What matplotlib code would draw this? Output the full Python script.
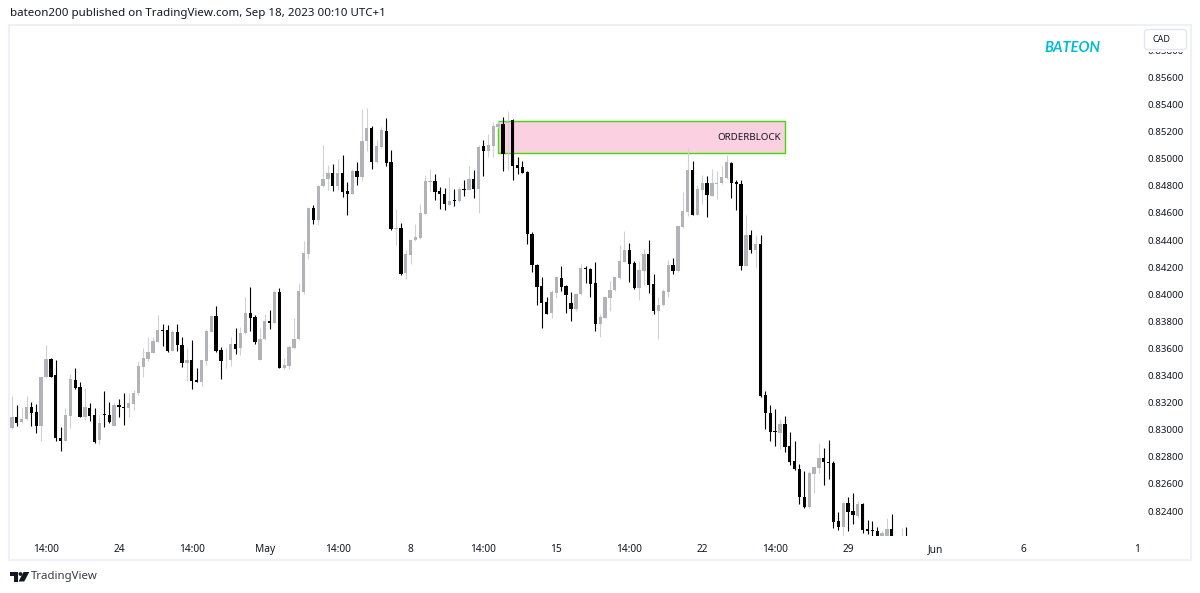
import matplotlib
matplotlib.use("Agg")
import matplotlib.pyplot as plt
import matplotlib.patches as patches
from matplotlib.transforms import Bbox, TransformedBbox

# candles (oldest first)
opens = [
    0.83012, 0.83093, 0.83054, 0.83076, 0.83169, 0.83128, 0.83027, 0.83386, 0.83523, 0.83405,
    0.82941, 0.82919, 0.83103, 0.83369, 0.83314, 0.83093, 0.83162, 0.83108, 0.82921, 0.83113,
    0.83108, 0.83027, 0.83182, 0.83167, 0.83157, 0.83192, 0.83268, 0.83464, 0.83521, 0.83565,
    0.83649, 0.83737, 0.83735, 0.83582, 0.83720, 0.83624, 0.83489, 0.83514, 0.83364, 0.83354,
    0.83511, 0.83722, 0.83840, 0.83587, 0.83504, 0.83514, 0.83632, 0.83600, 0.83715, 0.83862,
    0.83835, 0.83518, 0.83666, 0.83801, 0.83789, 0.84015, 0.83452, 0.83469, 0.83604, 0.83668,
    0.84017, 0.84295, 0.84636, 0.84545, 0.84796, 0.84848, 0.84894, 0.84799, 0.84897, 0.84759,
    0.84742, 0.84907, 0.84862, 0.85128, 0.85229, 0.84976, 0.85086, 0.85207, 0.84973, 0.84481,
    0.84491, 0.84157, 0.84292, 0.84400, 0.84415, 0.84595, 0.84831, 0.84835, 0.84759, 0.84742,
    0.84661, 0.84693, 0.84686, 0.84774, 0.84767, 0.84848, 0.84774, 0.85091, 0.85057, 0.85093,
    0.85233, 0.85253, 0.85262, 0.85283, 0.84951, 0.84938, 0.84904, 0.84447, 0.84218, 0.84058,
    0.83943, 0.83862, 0.84009, 0.84122, 0.84061, 0.83938, 0.83894, 0.83999, 0.84196, 0.84189,
    0.84083, 0.83778, 0.83827, 0.83972, 0.84029, 0.84120, 0.84240, 0.84324, 0.84228, 0.84049,
    0.84172, 0.84294, 0.84073, 0.83874, 0.83918, 0.84017, 0.84213, 0.84169, 0.84496, 0.84604,
    0.84919, 0.84587, 0.84766, 0.84818, 0.84727, 0.84815, 0.84820, 0.84857, 0.84970, 0.84828,
    0.84813, 0.84208, 0.84439, 0.84326, 0.84374, 0.83260, 0.83127, 0.82990, 0.82978, 0.83039,
    0.82879, 0.82769, 0.82712, 0.82506, 0.82427, 0.82675, 0.82717, 0.82788, 0.82761, 0.82756,
    0.82326, 0.82282, 0.82456, 0.82402, 0.82363, 0.82452, 0.82265, 0.82260, 0.82250, 0.82190,
    0.82190, 0.82267, 0.82180, 0.82150, 0.82205,
]
closes = [
    0.83093, 0.83051, 0.83078, 0.83169, 0.83123, 0.83027, 0.83391, 0.83521, 0.83391, 0.82938,
    0.82919, 0.83108, 0.83373, 0.83307, 0.83096, 0.83165, 0.83101, 0.82906, 0.83047, 0.83106,
    0.83056, 0.83184, 0.83165, 0.83162, 0.83199, 0.83273, 0.83469, 0.83526, 0.83573, 0.83654,
    0.83735, 0.83730, 0.83580, 0.83720, 0.83622, 0.83489, 0.83514, 0.83359, 0.83354, 0.83514,
    0.83730, 0.83840, 0.83582, 0.83504, 0.83511, 0.83632, 0.83597, 0.83715, 0.83858, 0.83826,
    0.83644, 0.83668, 0.83801, 0.83789, 0.84015, 0.83457, 0.83476, 0.83607, 0.83668, 0.84022,
    0.84304, 0.84639, 0.84545, 0.84799, 0.84853, 0.84897, 0.84799, 0.84897, 0.84754, 0.84740,
    0.84907, 0.84862, 0.85130, 0.85229, 0.84976, 0.85091, 0.85209, 0.84968, 0.84479, 0.84489,
    0.84152, 0.84295, 0.84403, 0.84420, 0.84599, 0.84835, 0.84835, 0.84752, 0.84737, 0.84663,
    0.84688, 0.84686, 0.84774, 0.84769, 0.84848, 0.84776, 0.85086, 0.85057, 0.85098, 0.85238,
    0.85253, 0.85037, 0.85278, 0.84946, 0.84933, 0.84897, 0.84442, 0.84213, 0.84054, 0.83938,
    0.83857, 0.84014, 0.84127, 0.84054, 0.83992, 0.83894, 0.84004, 0.84196, 0.84186, 0.84078,
    0.83778, 0.83832, 0.83977, 0.84031, 0.84125, 0.84245, 0.84324, 0.84221, 0.84046, 0.84176,
    0.84294, 0.84071, 0.83874, 0.83923, 0.84022, 0.84216, 0.84169, 0.84501, 0.84612, 0.84919,
    0.84587, 0.84774, 0.84818, 0.84729, 0.84818, 0.84820, 0.84862, 0.84973, 0.84820, 0.84811,
    0.84208, 0.84439, 0.84324, 0.84368, 0.83250, 0.83125, 0.82985, 0.82980, 0.83041, 0.82874,
    0.82764, 0.82710, 0.82501, 0.82427, 0.82680, 0.82722, 0.82788, 0.82759, 0.82751, 0.82321,
    0.82284, 0.82459, 0.82395, 0.82368, 0.82452, 0.82260, 0.82252, 0.82250, 0.82200, 0.82235,
    0.82267, 0.82190, 0.82150, 0.82200, 0.82170,
]
highs = [
    0.83251, 0.83182, 0.83162, 0.83251, 0.83206, 0.83187, 0.83391, 0.83624, 0.83528, 0.83514,
    0.83017, 0.83157, 0.83415, 0.83452, 0.83349, 0.83305, 0.83201, 0.83162, 0.83108, 0.83287,
    0.83206, 0.83194, 0.83224, 0.83273, 0.83268, 0.83297, 0.83506, 0.83605, 0.83681, 0.83681,
    0.83848, 0.83779, 0.83772, 0.83735, 0.83784, 0.83681, 0.83600, 0.83659, 0.83452, 0.83514,
    0.83740, 0.83845, 0.83912, 0.83607, 0.83605, 0.83681, 0.83750, 0.83759, 0.83978, 0.84054,
    0.83845, 0.83754, 0.83853, 0.83882, 0.84030, 0.84049, 0.83533, 0.83624, 0.83821, 0.84081,
    0.84393, 0.84644, 0.84661, 0.84803, 0.85103, 0.84951, 0.84958, 0.85000, 0.85027, 0.84828,
    0.84926, 0.84973, 0.85369, 0.85376, 0.85239, 0.85135, 0.85234, 0.85302, 0.85062, 0.84631,
    0.84528, 0.84324, 0.84403, 0.84521, 0.84668, 0.84877, 0.84921, 0.84885, 0.84791, 0.84786,
    0.84862, 0.84779, 0.84791, 0.84840, 0.84944, 0.84914, 0.85098, 0.85135, 0.85184, 0.85270,
    0.85283, 0.85307, 0.85351, 0.85295, 0.85012, 0.84980, 0.84909, 0.84459, 0.84221, 0.84127,
    0.83980, 0.84029, 0.84127, 0.84206, 0.84071, 0.84017, 0.84009, 0.84226, 0.84206, 0.84194,
    0.84238, 0.83857, 0.83980, 0.84098, 0.84127, 0.84361, 0.84466, 0.84378, 0.84245, 0.84245,
    0.84336, 0.84398, 0.84147, 0.83980, 0.84041, 0.84255, 0.84270, 0.84506, 0.84754, 0.85081,
    0.84980, 0.84803, 0.84877, 0.84872, 0.84926, 0.84906, 0.84943, 0.85024, 0.84973, 0.84840,
    0.84845, 0.84582, 0.84471, 0.84439, 0.84435, 0.83285, 0.83182, 0.83150, 0.83076, 0.83100,
    0.82982, 0.82914, 0.82744, 0.82692, 0.82697, 0.82727, 0.82899, 0.82869, 0.82928, 0.82771,
    0.82395, 0.82464, 0.82506, 0.82535, 0.82476, 0.82456, 0.82334, 0.82326, 0.82284, 0.82252,
    0.82346, 0.82375, 0.82200, 0.82272, 0.82279,
]
lows = [
    0.83007, 0.83027, 0.83047, 0.83071, 0.83027, 0.82973, 0.82919, 0.83383, 0.83386, 0.82919,
    0.82845, 0.82916, 0.83010, 0.83302, 0.83093, 0.83071, 0.83066, 0.82904, 0.82894, 0.83020,
    0.83047, 0.83027, 0.83091, 0.83034, 0.83091, 0.83145, 0.83256, 0.83386, 0.83506, 0.83563,
    0.83644, 0.83619, 0.83577, 0.83580, 0.83582, 0.83464, 0.83361, 0.83302, 0.83351, 0.83322,
    0.83477, 0.83718, 0.83575, 0.83371, 0.83455, 0.83469, 0.83558, 0.83555, 0.83710, 0.83730,
    0.83636, 0.83518, 0.83661, 0.83744, 0.83786, 0.83454, 0.83445, 0.83445, 0.83599, 0.83661,
    0.84005, 0.84263, 0.84516, 0.84513, 0.84791, 0.84772, 0.84762, 0.84767, 0.84717, 0.84587,
    0.84737, 0.84808, 0.84835, 0.85054, 0.84926, 0.84968, 0.85081, 0.84946, 0.84477, 0.84361,
    0.84145, 0.84115, 0.84226, 0.84393, 0.84410, 0.84590, 0.84759, 0.84698, 0.84627, 0.84624,
    0.84656, 0.84651, 0.84681, 0.84722, 0.84767, 0.84713, 0.84602, 0.84870, 0.85012, 0.85012,
    0.85228, 0.84906, 0.84914, 0.84845, 0.84884, 0.84894, 0.84368, 0.84167, 0.83918, 0.83751,
    0.83852, 0.83827, 0.83975, 0.84024, 0.83864, 0.83803, 0.83877, 0.83997, 0.84085, 0.83980,
    0.83729, 0.83685, 0.83827, 0.83877, 0.84024, 0.84115, 0.84235, 0.84090, 0.84041, 0.83960,
    0.84071, 0.84009, 0.83857, 0.83673, 0.83913, 0.83980, 0.84147, 0.84164, 0.84491, 0.84577,
    0.84582, 0.84582, 0.84663, 0.84570, 0.84722, 0.84705, 0.84815, 0.84852, 0.84712, 0.84624,
    0.84176, 0.84206, 0.84307, 0.84194, 0.83243, 0.83005, 0.82914, 0.82879, 0.82855, 0.82837,
    0.82739, 0.82705, 0.82452, 0.82422, 0.82425, 0.82535, 0.82683, 0.82592, 0.82633, 0.82272,
    0.82260, 0.82218, 0.82252, 0.82302, 0.82346, 0.82240, 0.82230, 0.82190, 0.82180, 0.82170,
    0.82170, 0.82160, 0.82130, 0.82140, 0.82150,
]

price_ticks = [0.824, 0.826, 0.828, 0.830, 0.832, 0.834, 0.836, 0.838, 0.840, 0.842,
               0.844, 0.846, 0.848, 0.850, 0.852, 0.854, 0.856, 0.858]
time_ticks = [7, 22, 37, 52, 67, 82, 97, 112, 127, 142, 157, 172, 190, 208, 232]
time_labels = ["14:00", "24", "14:00", "May", "14:00", "8", "14:00", "15", "14:00", "22",
               "14:00", "29", "Jun", "6", "13"]
bold_labels = ["May", "Jun"]

# orderblock zone
zone_start, zone_end = 99.9, 159.0
zone_low, zone_high = 0.85040, 0.85279

UP = "#b2b3b8"
DOWN = "#000000"
UP_WICK = "#d0d1d5"
FONT = "Noto Sans"
W, H = 1200, 593

plt.rcParams["font.family"] = FONT

fig = plt.figure(figsize=(W / 100, H / 100), dpi=100, facecolor="white")


def px_axes(left, top, right, bottom, **kw):
    return fig.add_axes([left / W, 1 - bottom / H, (right - left) / W, (bottom - top) / H], **kw)


ax = px_axes(9.5, 25.5, 1144, 536)
ax.set_xlim(-0.51, 232.88)
ax.set_ylim(0.82216, 0.85983)
for s in ax.spines.values():
    s.set_visible(False)

# zone sits under the candles
ax.add_patch(patches.Rectangle((zone_start, zone_low), zone_end - zone_start, zone_high - zone_low,
                               facecolor="#fbd0e0", edgecolor="#3fdc00", linewidth=1.0, zorder=1))
ax.text(zone_end - 0.8, (zone_low + zone_high) / 2, "ORDERBLOCK", ha="right", va="center",
        fontsize=7, color="#131722", zorder=4)

xs = list(range(len(opens)))
colors = [UP if c >= o else DOWN for o, c in zip(opens, closes)]
wick_colors = [UP_WICK if c >= o else DOWN for o, c in zip(opens, closes)]
ax.vlines(xs, lows, highs, colors=wick_colors, linewidth=0.8, zorder=2)
ax.bar(xs, [abs(c - o) for o, c in zip(opens, closes)], bottom=[min(o, c) for o, c in zip(opens, closes)],
       width=0.68, color=colors, linewidth=0, zorder=3)

ax.yaxis.tick_right()
ax.set_yticks(price_ticks)
ax.set_yticklabels([f"{p:.5f}" for p in price_ticks])
ax.set_xticks(time_ticks)
ax.set_xticklabels(time_labels)
ax.tick_params(axis="y", length=0, pad=2.5, labelsize=7.0, labelcolor="#131722")
ax.tick_params(axis="x", length=0, pad=6, labelsize=7.3, labelcolor="#131722")
for lab in ax.get_xticklabels():
    if lab.get_text() in bold_labels:
        lab.set_fontweight("bold")
# last date label is cut off just before the price scale
last = ax.get_xticklabels()[-1]
last.set_clip_box(TransformedBbox(Bbox([[0, 0], [1140 / W, 1]]), fig.transFigure))
last.set_clip_on(True)

# page furniture, in pixel coordinates
page = fig.add_axes([0, 0, 1, 1], facecolor="none", zorder=5)
page.set_xlim(0, W)
page.set_ylim(H, 0)
page.axis("off")
page.add_patch(patches.Rectangle((9, 25), 1182, 534.5, fill=False, edgecolor="#eef0f6", linewidth=1.5))
page.text(10, 13.5, "bateon200 published on TradingView.com, Sep 18, 2023 00:10 UTC+1", fontsize=8.3,
          color="#131722", va="center", ha="left")
page.text(1072.5, 48, "BATEON", fontsize=10.5, color="#00bcd4", fontweight="bold", style="italic",
          family="Lato", ha="center", va="center")
# currency button covers most of the 0.85800 label
page.add_patch(patches.Rectangle((1145, 48), 41, 4, facecolor="white", edgecolor="none"))
page.add_patch(patches.FancyBboxPatch((1144.5, 29.5), 42, 20, boxstyle="round,pad=0,rounding_size=3",
                                      facecolor="white", edgecolor="#e3e6ee", linewidth=1))
page.text(1161, 39.5, "CAD", fontsize=6.5, color="#131722", ha="center", va="center")

# TradingView logo
logo = "#131722"
page.add_patch(patches.Polygon([(9.5, 572), (18, 572), (18, 581.5), (13.5, 581.5), (13.5, 576), (9.5, 576)],
                               facecolor=logo, edgecolor="none"))
page.add_patch(patches.Circle((20.5, 574), 1.9, facecolor=logo, edgecolor="none"))
page.add_patch(patches.Polygon([(23.5, 572), (29.3, 572), (24.2, 581.5), (18.6, 581.5)],
                               facecolor=logo, edgecolor="none"))
page.text(31, 576.5, "TradingView", fontsize=8.2, color="#363a45", ha="left", va="center")

fig.savefig("out.png", dpi=100)
